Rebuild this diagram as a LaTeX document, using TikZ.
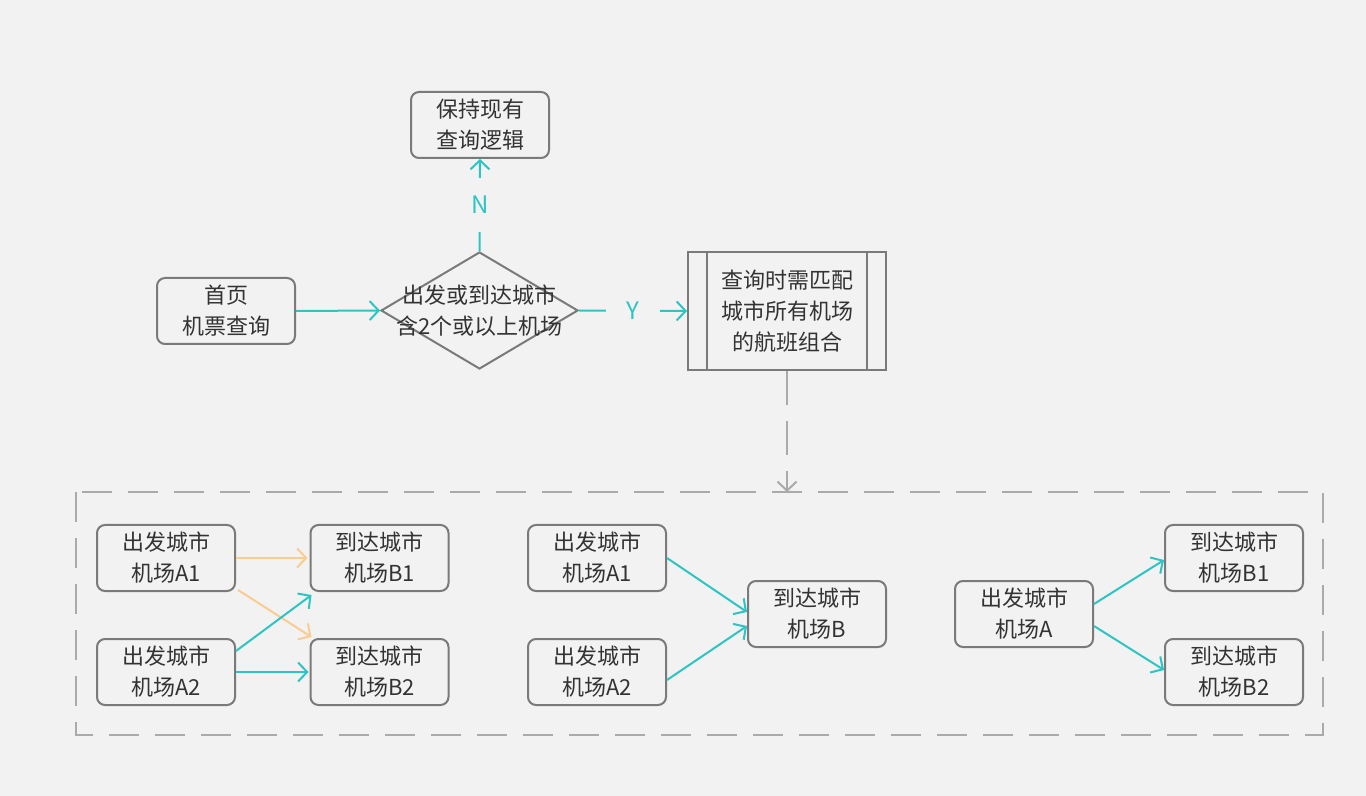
\documentclass[tikz,border=0pt]{standalone}
\usepackage{fontspec}
\setmainfont{Noto Sans CJK SC}
\usetikzlibrary{arrows.meta,shapes.geometric}
\definecolor{bg}{HTML}{F2F2F2}
\definecolor{bordergray}{HTML}{7A7A7A}
\definecolor{dashgray}{HTML}{AAAAAA}
\definecolor{tealc}{HTML}{2EC4C4}
\definecolor{orangec}{HTML}{F9CC92}
\definecolor{txtc}{HTML}{333333}
\tikzset{
  txtfont/.style={font=\fontsize{11pt}{15.5pt}\selectfont, text=txtc},
  box/.style={draw=bordergray, line width=1pt, rounded corners=4pt, minimum width=69pt, minimum height=33pt, align=center, inner sep=0pt, txtfont},
  procbox/.style={draw=bordergray, line width=1pt, minimum width=99pt, minimum height=59pt, align=center, inner sep=0pt, txtfont},
  decbox/.style={diamond, draw=bordergray, line width=1pt, minimum width=98.5pt, minimum height=58.5pt, inner sep=0pt},
  tip/.style={-{Straight Barb[length=4.5pt,width=9.5pt,line width=1pt]}},
  tealarrow/.style={draw=tealc, line width=1pt, tip},
  orangearrow/.style={draw=orangec, line width=1pt, tip},
  dasharrow/.style={draw=dashgray, line width=1pt, dash pattern=on 17pt off 8pt, tip},
  frame/.style={draw=dashgray, line width=1pt, dash pattern=on 15pt off 8pt},
  lbl/.style={fill=bg, text=tealc, font=\fontsize{12pt}{14pt}\selectfont}
}
\begin{document}
\begin{tikzpicture}[x=0.5pt,y=-0.5pt]
\fill[bg] (0,0) rectangle (1366,796);
\useasboundingbox (0,0) rectangle (1366,796);

% top part
\node[box] (keep) at (480,125) {保持现有\\查询逻辑};
\node[box] (start) at (226,311) {首页\\机票查询};
\node[decbox] (dec) at (479.5,310.5) {};
\node[txtfont, align=center, inner sep=0pt] (dectxt) at (dec.center) {出发或到达城市\\含2个或以上机场};
\node[procbox] (proc) at (787,311) {查询时需匹配\\城市所有机场\\的航班组合};
\draw[draw=bordergray, line width=1pt] ([xshift=10pt]proc.north west) -- ([xshift=10pt]proc.south west);
\draw[draw=bordergray, line width=1pt] ([xshift=-10pt]proc.north east) -- ([xshift=-10pt]proc.south east);

\draw[tealarrow] (start.east) -- (dec.west);
\draw[tealarrow] (dec.east) -- node[lbl, inner xsep=10.5pt, inner ysep=3pt] (ylbl) {Y} (proc.west);
\draw[tealarrow] (dec.north) -- node[lbl, inner xsep=3pt, inner ysep=9pt] (nlbl) {N} (keep.south);

% dashed frame
\draw[frame] (76,492) rectangle (1323,735);
\coordinate (ftop) at (787,492);
\draw[dasharrow] (proc.south) -- (ftop);

% left group
\node[box] (a1) at (166,558) {出发城市\\机场A1};
\node[box] (b1) at (379.5,558) {到达城市\\机场B1};
\node[box] (a2) at (166,672) {出发城市\\机场A2};
\node[box] (b2) at (379.5,672) {到达城市\\机场B2};
\draw[orangearrow] (a1.east) -- ([xshift=-1pt]b1.west);
\draw[orangearrow] ([xshift=1pt,yshift=1pt]a1.south east) -- ([xshift=1pt,yshift=0.5pt]b2.north west);
\draw[tealarrow] ([yshift=-6.5pt]a2.north east) -- ([xshift=1pt,yshift=-1.5pt]b1.south west);
\draw[tealarrow] (a2.east) -- ([xshift=-0.5pt]b2.west);

% middle group
\node[box] (ma1) at (597,558) {出发城市\\机场A1};
\node[box] (ma2) at (597,672) {出发城市\\机场A2};
\node[box] (mb) at (817,614) {到达城市\\机场B};
\draw[tealarrow] (ma1.east) -- ([yshift=1pt]mb.west);
\draw[tealarrow] ([yshift=-4pt]ma2.east) -- ([yshift=-6pt]mb.west);

% right group
\node[box] (ra) at (1024,614) {出发城市\\机场A};
\node[box] (rb1) at (1234,558) {到达城市\\机场B1};
\node[box] (rb2) at (1234,672) {到达城市\\机场B2};
\draw[tealarrow] ([yshift=5pt]ra.east) -- ([yshift=-1pt]rb1.west);
\draw[tealarrow] ([yshift=-6pt]ra.east) -- ([yshift=1pt]rb2.west);
\end{tikzpicture}
\end{document}
